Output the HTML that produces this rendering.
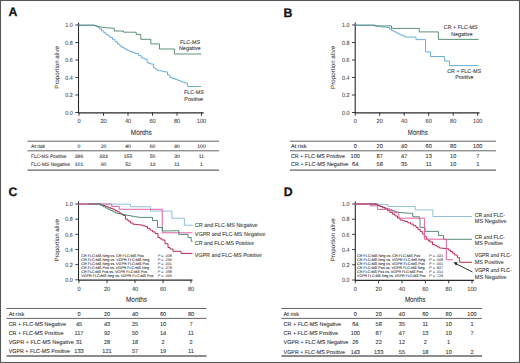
<!DOCTYPE html><html><head><meta charset="utf-8"><style>html,body{margin:0;padding:0;background:#fff;overflow:hidden;width:520px;height:363px;}svg{display:block;}text{font-family:"Liberation Sans", sans-serif;text-rendering:geometricPrecision;}</style></head><body>
<svg width="520" height="363" viewBox="0 0 520 363">
<rect x="0" y="0" width="520" height="363" fill="#fff"/>
<text x="8.4" y="16.4" font-size="12.3" text-anchor="start" fill="#111" stroke="#111" stroke-width="0.25" font-weight="bold">A</text>
<text x="283.4" y="16.8" font-size="12.3" text-anchor="start" fill="#111" stroke="#111" stroke-width="0.25" font-weight="bold">B</text>
<text x="8.4" y="196" font-size="12.3" text-anchor="start" fill="#111" stroke="#111" stroke-width="0.25" font-weight="bold">C</text>
<text x="283.8" y="196" font-size="12.3" text-anchor="start" fill="#111" stroke="#111" stroke-width="0.25" font-weight="bold">D</text>
<line x1="78.5" y1="22.5" x2="78.5" y2="113" stroke="#2a2a2a" stroke-width="1.1"/>
<line x1="78" y1="112.8" x2="203.7" y2="112.8" stroke="#2a2a2a" stroke-width="1.3"/>
<line x1="75.3" y1="112.5" x2="78.5" y2="112.5" stroke="#2a2a2a" stroke-width="0.9"/>
<text x="72.7" y="114.7" font-size="6.1" text-anchor="end" fill="#4a4a4a" stroke="#4a4a4a" stroke-width="0.08" textLength="7.46" lengthAdjust="spacingAndGlyphs">0.0</text>
<line x1="75.3" y1="95" x2="78.5" y2="95" stroke="#2a2a2a" stroke-width="0.9"/>
<text x="72.7" y="97.2" font-size="6.1" text-anchor="end" fill="#4a4a4a" stroke="#4a4a4a" stroke-width="0.08" textLength="7.46" lengthAdjust="spacingAndGlyphs">0.2</text>
<line x1="75.3" y1="77.5" x2="78.5" y2="77.5" stroke="#2a2a2a" stroke-width="0.9"/>
<text x="72.7" y="79.7" font-size="6.1" text-anchor="end" fill="#4a4a4a" stroke="#4a4a4a" stroke-width="0.08" textLength="7.46" lengthAdjust="spacingAndGlyphs">0.4</text>
<line x1="75.3" y1="60" x2="78.5" y2="60" stroke="#2a2a2a" stroke-width="0.9"/>
<text x="72.7" y="62.2" font-size="6.1" text-anchor="end" fill="#4a4a4a" stroke="#4a4a4a" stroke-width="0.08" textLength="7.46" lengthAdjust="spacingAndGlyphs">0.6</text>
<line x1="75.3" y1="42.5" x2="78.5" y2="42.5" stroke="#2a2a2a" stroke-width="0.9"/>
<text x="72.7" y="44.7" font-size="6.1" text-anchor="end" fill="#4a4a4a" stroke="#4a4a4a" stroke-width="0.08" textLength="7.46" lengthAdjust="spacingAndGlyphs">0.8</text>
<line x1="75.3" y1="25" x2="78.5" y2="25" stroke="#2a2a2a" stroke-width="0.9"/>
<text x="72.7" y="27.2" font-size="6.1" text-anchor="end" fill="#4a4a4a" stroke="#4a4a4a" stroke-width="0.08" textLength="7.46" lengthAdjust="spacingAndGlyphs">1.0</text>
<line x1="79" y1="112.5" x2="79" y2="115.8" stroke="#2a2a2a" stroke-width="0.9"/>
<text x="79" y="123.2" font-size="6.1" text-anchor="middle" fill="#4a4a4a" stroke="#4a4a4a" stroke-width="0.08" textLength="3.12" lengthAdjust="spacingAndGlyphs">0</text>
<line x1="103.5" y1="112.5" x2="103.5" y2="115.8" stroke="#2a2a2a" stroke-width="0.9"/>
<text x="103.5" y="123.2" font-size="6.1" text-anchor="middle" fill="#4a4a4a" stroke="#4a4a4a" stroke-width="0.08" textLength="6.24" lengthAdjust="spacingAndGlyphs">20</text>
<line x1="128" y1="112.5" x2="128" y2="115.8" stroke="#2a2a2a" stroke-width="0.9"/>
<text x="128" y="123.2" font-size="6.1" text-anchor="middle" fill="#4a4a4a" stroke="#4a4a4a" stroke-width="0.08" textLength="6.24" lengthAdjust="spacingAndGlyphs">40</text>
<line x1="152.5" y1="112.5" x2="152.5" y2="115.8" stroke="#2a2a2a" stroke-width="0.9"/>
<text x="152.5" y="123.2" font-size="6.1" text-anchor="middle" fill="#4a4a4a" stroke="#4a4a4a" stroke-width="0.08" textLength="6.24" lengthAdjust="spacingAndGlyphs">60</text>
<line x1="177" y1="112.5" x2="177" y2="115.8" stroke="#2a2a2a" stroke-width="0.9"/>
<text x="177" y="123.2" font-size="6.1" text-anchor="middle" fill="#4a4a4a" stroke="#4a4a4a" stroke-width="0.08" textLength="6.24" lengthAdjust="spacingAndGlyphs">80</text>
<line x1="201.5" y1="112.5" x2="201.5" y2="115.8" stroke="#2a2a2a" stroke-width="0.9"/>
<text x="201.5" y="123.2" font-size="6.1" text-anchor="middle" fill="#4a4a4a" stroke="#4a4a4a" stroke-width="0.08" textLength="9.36" lengthAdjust="spacingAndGlyphs">100</text>
<text x="141.3" y="134.6" font-size="7.7" text-anchor="middle" fill="#333" stroke="#333" stroke-width="0.08" textLength="21" lengthAdjust="spacingAndGlyphs">Months</text>
<text transform="translate(58.6,67.4) rotate(-90)" font-size="6.2" text-anchor="middle" fill="#333" stroke="#333" stroke-width="0.05" textLength="42.5" lengthAdjust="spacingAndGlyphs">Proportion alive</text>
<polyline points="78.5,25.2 93.5,25.2 95.2,25.2 95.2,26.05 96.9,26.05 96.9,26.9 99.2,26.9 99.2,28.83 101.5,28.83 101.5,30.77 103.8,30.77 103.8,32.7 105.87,32.7 105.87,34.3 107.93,34.3 107.93,35.9 110,35.9 110,37.5 112.5,37.5 112.5,39.65 115,39.65 115,41.8 117.45,41.8 117.45,44 119.9,44 119.9,46.2 121.97,46.2 121.97,47.43 124.03,47.43 124.03,48.67 126.1,48.67 126.1,49.9 128.17,49.9 128.17,50.73 130.23,50.73 130.23,51.57 132.3,51.57 132.3,52.4 134.15,52.4 134.15,53 136,53 136,53.6 138.5,53.6 138.5,55.45 141,55.45 141,57.3 142.85,57.3 142.85,58.25 144.7,58.25 144.7,59.2 147.2,59.2 147.2,62.9 149.05,62.9 149.05,63.5 150.9,63.5 150.9,64.1 153.4,64.1 153.4,67.9 155.25,67.9 155.25,69.1 157.1,69.1 157.1,70.3 159.17,70.3 159.17,70.73 161.23,70.73 161.23,71.17 163.3,71.17 163.3,71.6 165,71.6 165,71.9 167.5,71.9 167.5,75 170,75 170,77.5 172.5,77.5 172.5,78.45 175,78.45 175,79.4 177.5,79.4 177.5,80.33 180,80.33 180,81.25 182.5,81.25 182.5,82.17 185,82.17 185,83.1 187.5,83.1 187.5,85.6 187.5,86.5 201.3,86.5" fill="none" stroke="#5aa8d6" stroke-width="0.9" stroke-linejoin="round"/>
<polyline points="78.5,25.2 93.5,25.2 101.5,27.2 107.3,27.9 114.2,28.3 114.2,31 123.5,31 123.5,32.2 136.2,32.2 136.2,34.4 140.8,34.4 140.8,39.3 150.9,39.3 150.9,43.9 159.5,43.9 159.5,49 174.4,49 174.4,54 201.3,54" fill="none" stroke="#4a8468" stroke-width="0.9" stroke-linejoin="round"/>
<text x="190" y="44" font-size="5.5" text-anchor="middle" fill="#333" stroke="#333" stroke-width="0.08" textLength="20" lengthAdjust="spacingAndGlyphs">FLC-MS</text>
<text x="189.7" y="49.9" font-size="5.5" text-anchor="middle" fill="#333" stroke="#333" stroke-width="0.08" textLength="21.5" lengthAdjust="spacingAndGlyphs">Negative</text>
<text x="193.9" y="93.8" font-size="5.5" text-anchor="middle" fill="#333" stroke="#333" stroke-width="0.08" textLength="19.7" lengthAdjust="spacingAndGlyphs">FLC-MS</text>
<text x="193.7" y="100.6" font-size="5.5" text-anchor="middle" fill="#333" stroke="#333" stroke-width="0.08" textLength="18.7" lengthAdjust="spacingAndGlyphs">Positive</text>
<line x1="27.5" y1="141.2" x2="219" y2="141.2" stroke="#666" stroke-width="1"/>
<line x1="27.5" y1="150.8" x2="219" y2="150.8" stroke="#666" stroke-width="1"/>
<line x1="27.5" y1="170.1" x2="219" y2="170.1" stroke="#666" stroke-width="1.3"/>
<text x="31" y="147.8" font-size="5.1" text-anchor="start" fill="#333" stroke="#333" stroke-width="0.08">At risk</text>
<text x="79" y="147.8" font-size="5.1" text-anchor="middle" fill="#333" stroke="#333" stroke-width="0.08">0</text>
<text x="103.5" y="147.8" font-size="5.1" text-anchor="middle" fill="#333" stroke="#333" stroke-width="0.08">20</text>
<text x="128" y="147.8" font-size="5.1" text-anchor="middle" fill="#333" stroke="#333" stroke-width="0.08">40</text>
<text x="152.5" y="147.8" font-size="5.1" text-anchor="middle" fill="#333" stroke="#333" stroke-width="0.08">60</text>
<text x="177" y="147.8" font-size="5.1" text-anchor="middle" fill="#333" stroke="#333" stroke-width="0.08">80</text>
<text x="201.5" y="147.8" font-size="5.1" text-anchor="middle" fill="#333" stroke="#333" stroke-width="0.08">100</text>
<text x="31" y="158.4" font-size="5.1" text-anchor="start" fill="#333" stroke="#333" stroke-width="0.08" textLength="35.5" lengthAdjust="spacingAndGlyphs">FLC-MS Positive</text>
<text x="79" y="158.4" font-size="5.1" text-anchor="middle" fill="#333" stroke="#333" stroke-width="0.08">386</text>
<text x="103.5" y="158.4" font-size="5.1" text-anchor="middle" fill="#333" stroke="#333" stroke-width="0.08">333</text>
<text x="128" y="158.4" font-size="5.1" text-anchor="middle" fill="#333" stroke="#333" stroke-width="0.08">155</text>
<text x="152.5" y="158.4" font-size="5.1" text-anchor="middle" fill="#333" stroke="#333" stroke-width="0.08">50</text>
<text x="177" y="158.4" font-size="5.1" text-anchor="middle" fill="#333" stroke="#333" stroke-width="0.08">30</text>
<text x="201.5" y="158.4" font-size="5.1" text-anchor="middle" fill="#333" stroke="#333" stroke-width="0.08">11</text>
<text x="31" y="166.4" font-size="5.1" text-anchor="start" fill="#333" stroke="#333" stroke-width="0.08" textLength="39" lengthAdjust="spacingAndGlyphs">FLC-MS Negative</text>
<text x="79" y="166.4" font-size="5.1" text-anchor="middle" fill="#333" stroke="#333" stroke-width="0.08">101</text>
<text x="103.5" y="166.4" font-size="5.1" text-anchor="middle" fill="#333" stroke="#333" stroke-width="0.08">90</text>
<text x="128" y="166.4" font-size="5.1" text-anchor="middle" fill="#333" stroke="#333" stroke-width="0.08">52</text>
<text x="152.5" y="166.4" font-size="5.1" text-anchor="middle" fill="#333" stroke="#333" stroke-width="0.08">13</text>
<text x="177" y="166.4" font-size="5.1" text-anchor="middle" fill="#333" stroke="#333" stroke-width="0.08">11</text>
<text x="201.5" y="166.4" font-size="5.1" text-anchor="middle" fill="#333" stroke="#333" stroke-width="0.08">1</text>
<line x1="355.2" y1="22.5" x2="355.2" y2="113" stroke="#2a2a2a" stroke-width="1.1"/>
<line x1="354.7" y1="112.8" x2="479.5" y2="112.8" stroke="#2a2a2a" stroke-width="1.3"/>
<line x1="352" y1="112.5" x2="355.2" y2="112.5" stroke="#2a2a2a" stroke-width="0.9"/>
<text x="349.4" y="114.7" font-size="6.1" text-anchor="end" fill="#4a4a4a" stroke="#4a4a4a" stroke-width="0.08" textLength="7.46" lengthAdjust="spacingAndGlyphs">0.0</text>
<line x1="352" y1="95" x2="355.2" y2="95" stroke="#2a2a2a" stroke-width="0.9"/>
<text x="349.4" y="97.2" font-size="6.1" text-anchor="end" fill="#4a4a4a" stroke="#4a4a4a" stroke-width="0.08" textLength="7.46" lengthAdjust="spacingAndGlyphs">0.2</text>
<line x1="352" y1="77.5" x2="355.2" y2="77.5" stroke="#2a2a2a" stroke-width="0.9"/>
<text x="349.4" y="79.7" font-size="6.1" text-anchor="end" fill="#4a4a4a" stroke="#4a4a4a" stroke-width="0.08" textLength="7.46" lengthAdjust="spacingAndGlyphs">0.4</text>
<line x1="352" y1="60" x2="355.2" y2="60" stroke="#2a2a2a" stroke-width="0.9"/>
<text x="349.4" y="62.2" font-size="6.1" text-anchor="end" fill="#4a4a4a" stroke="#4a4a4a" stroke-width="0.08" textLength="7.46" lengthAdjust="spacingAndGlyphs">0.6</text>
<line x1="352" y1="42.5" x2="355.2" y2="42.5" stroke="#2a2a2a" stroke-width="0.9"/>
<text x="349.4" y="44.7" font-size="6.1" text-anchor="end" fill="#4a4a4a" stroke="#4a4a4a" stroke-width="0.08" textLength="7.46" lengthAdjust="spacingAndGlyphs">0.8</text>
<line x1="352" y1="25" x2="355.2" y2="25" stroke="#2a2a2a" stroke-width="0.9"/>
<text x="349.4" y="27.2" font-size="6.1" text-anchor="end" fill="#4a4a4a" stroke="#4a4a4a" stroke-width="0.08" textLength="7.46" lengthAdjust="spacingAndGlyphs">1.0</text>
<line x1="355.2" y1="112.5" x2="355.2" y2="115.8" stroke="#2a2a2a" stroke-width="0.9"/>
<text x="355.2" y="123.2" font-size="6.1" text-anchor="middle" fill="#4a4a4a" stroke="#4a4a4a" stroke-width="0.08" textLength="3.12" lengthAdjust="spacingAndGlyphs">0</text>
<line x1="379.7" y1="112.5" x2="379.7" y2="115.8" stroke="#2a2a2a" stroke-width="0.9"/>
<text x="379.7" y="123.2" font-size="6.1" text-anchor="middle" fill="#4a4a4a" stroke="#4a4a4a" stroke-width="0.08" textLength="6.24" lengthAdjust="spacingAndGlyphs">20</text>
<line x1="404.2" y1="112.5" x2="404.2" y2="115.8" stroke="#2a2a2a" stroke-width="0.9"/>
<text x="404.2" y="123.2" font-size="6.1" text-anchor="middle" fill="#4a4a4a" stroke="#4a4a4a" stroke-width="0.08" textLength="6.24" lengthAdjust="spacingAndGlyphs">40</text>
<line x1="428.7" y1="112.5" x2="428.7" y2="115.8" stroke="#2a2a2a" stroke-width="0.9"/>
<text x="428.7" y="123.2" font-size="6.1" text-anchor="middle" fill="#4a4a4a" stroke="#4a4a4a" stroke-width="0.08" textLength="6.24" lengthAdjust="spacingAndGlyphs">60</text>
<line x1="453.2" y1="112.5" x2="453.2" y2="115.8" stroke="#2a2a2a" stroke-width="0.9"/>
<text x="453.2" y="123.2" font-size="6.1" text-anchor="middle" fill="#4a4a4a" stroke="#4a4a4a" stroke-width="0.08" textLength="6.24" lengthAdjust="spacingAndGlyphs">80</text>
<line x1="477.7" y1="112.5" x2="477.7" y2="115.8" stroke="#2a2a2a" stroke-width="0.9"/>
<text x="477.7" y="123.2" font-size="6.1" text-anchor="middle" fill="#4a4a4a" stroke="#4a4a4a" stroke-width="0.08" textLength="9.36" lengthAdjust="spacingAndGlyphs">100</text>
<text x="417.8" y="134.6" font-size="7.7" text-anchor="middle" fill="#333" stroke="#333" stroke-width="0.08" textLength="20" lengthAdjust="spacingAndGlyphs">Months</text>
<text transform="translate(335.4,67.4) rotate(-90)" font-size="6.2" text-anchor="middle" fill="#333" stroke="#333" stroke-width="0.05" textLength="43" lengthAdjust="spacingAndGlyphs">Proportion alive</text>
<polyline points="355.2,25.2 374.6,25.2 376,25.2 376,26.5 378.34,26.5 378.34,26.7 380.68,26.7 380.68,26.9 383.02,26.9 383.02,27.1 385.36,27.1 385.36,27.3 387.7,27.3 387.7,27.5 389.6,27.5 389.6,29.05 391.5,29.05 391.5,30.6 393.68,30.6 393.68,31.7 395.85,31.7 395.85,32.8 398.02,32.8 398.02,33.9 400.2,33.9 400.2,35 402.7,35 402.7,35.95 405.2,35.95 405.2,36.9 405.2,37.1 416,37.1 416,39.6 425.5,39.6 425.5,51.9 430.5,51.9 430.5,56.5 444.6,56.5 444.6,61 449.6,61 449.6,65.6 478.5,65.6" fill="none" stroke="#5aa8d6" stroke-width="0.9" stroke-linejoin="round"/>
<polyline points="355.2,25.2 374.6,25.2 374.6,25.9 391.5,25.9 391.5,28.4 419.2,28.4 419.2,31.9 438.4,31.9 438.4,39.4 478.5,39.4" fill="none" stroke="#4a8468" stroke-width="0.9" stroke-linejoin="round"/>
<text x="460.7" y="29.1" font-size="5.5" text-anchor="middle" fill="#333" stroke="#333" stroke-width="0.08" textLength="33.8" lengthAdjust="spacingAndGlyphs">CR + FLC-MS</text>
<text x="461.8" y="35.65" font-size="5.5" text-anchor="middle" fill="#333" stroke="#333" stroke-width="0.08" textLength="21.6" lengthAdjust="spacingAndGlyphs">Negative</text>
<text x="464.1" y="73.4" font-size="5.5" text-anchor="middle" fill="#333" stroke="#333" stroke-width="0.08" textLength="33.8" lengthAdjust="spacingAndGlyphs">CR + FLC-MS</text>
<text x="464.3" y="79.3" font-size="5.5" text-anchor="middle" fill="#333" stroke="#333" stroke-width="0.08" textLength="18.2" lengthAdjust="spacingAndGlyphs">Positive</text>
<line x1="290" y1="141.2" x2="496" y2="141.2" stroke="#666" stroke-width="1"/>
<line x1="290" y1="150.8" x2="496" y2="150.8" stroke="#666" stroke-width="1"/>
<line x1="290" y1="170.1" x2="496" y2="170.1" stroke="#666" stroke-width="1.3"/>
<text x="291" y="147.8" font-size="5.6" text-anchor="start" fill="#333" stroke="#333" stroke-width="0.08">At risk</text>
<text x="355.2" y="147.8" font-size="5.6" text-anchor="middle" fill="#333" stroke="#333" stroke-width="0.08">0</text>
<text x="379.7" y="147.8" font-size="5.6" text-anchor="middle" fill="#333" stroke="#333" stroke-width="0.08">20</text>
<text x="404.2" y="147.8" font-size="5.6" text-anchor="middle" fill="#333" stroke="#333" stroke-width="0.08">40</text>
<text x="428.7" y="147.8" font-size="5.6" text-anchor="middle" fill="#333" stroke="#333" stroke-width="0.08">60</text>
<text x="453.2" y="147.8" font-size="5.6" text-anchor="middle" fill="#333" stroke="#333" stroke-width="0.08">80</text>
<text x="477.7" y="147.8" font-size="5.6" text-anchor="middle" fill="#333" stroke="#333" stroke-width="0.08">100</text>
<text x="291" y="158.4" font-size="5.6" text-anchor="start" fill="#333" stroke="#333" stroke-width="0.08" textLength="54" lengthAdjust="spacingAndGlyphs">CR + FLC-MS Positive</text>
<text x="355.2" y="158.4" font-size="5.6" text-anchor="middle" fill="#333" stroke="#333" stroke-width="0.08">100</text>
<text x="379.7" y="158.4" font-size="5.6" text-anchor="middle" fill="#333" stroke="#333" stroke-width="0.08">87</text>
<text x="404.2" y="158.4" font-size="5.6" text-anchor="middle" fill="#333" stroke="#333" stroke-width="0.08">47</text>
<text x="428.7" y="158.4" font-size="5.6" text-anchor="middle" fill="#333" stroke="#333" stroke-width="0.08">13</text>
<text x="453.2" y="158.4" font-size="5.6" text-anchor="middle" fill="#333" stroke="#333" stroke-width="0.08">10</text>
<text x="477.7" y="158.4" font-size="5.6" text-anchor="middle" fill="#333" stroke="#333" stroke-width="0.08">7</text>
<text x="291" y="166.4" font-size="5.6" text-anchor="start" fill="#333" stroke="#333" stroke-width="0.08" textLength="57.4" lengthAdjust="spacingAndGlyphs">CR + FLC-MS Negative</text>
<text x="355.2" y="166.4" font-size="5.6" text-anchor="middle" fill="#333" stroke="#333" stroke-width="0.08">64</text>
<text x="379.7" y="166.4" font-size="5.6" text-anchor="middle" fill="#333" stroke="#333" stroke-width="0.08">58</text>
<text x="404.2" y="166.4" font-size="5.6" text-anchor="middle" fill="#333" stroke="#333" stroke-width="0.08">35</text>
<text x="428.7" y="166.4" font-size="5.6" text-anchor="middle" fill="#333" stroke="#333" stroke-width="0.08">11</text>
<text x="453.2" y="166.4" font-size="5.6" text-anchor="middle" fill="#333" stroke="#333" stroke-width="0.08">10</text>
<text x="477.7" y="166.4" font-size="5.6" text-anchor="middle" fill="#333" stroke="#333" stroke-width="0.08">1</text>
<line x1="78.5" y1="201.5" x2="78.5" y2="280.3" stroke="#2a2a2a" stroke-width="1.1"/>
<line x1="78" y1="280.1" x2="192.5" y2="280.1" stroke="#2a2a2a" stroke-width="1.3"/>
<line x1="75.3" y1="279.8" x2="78.5" y2="279.8" stroke="#2a2a2a" stroke-width="0.9"/>
<text x="72.7" y="282" font-size="6.1" text-anchor="end" fill="#4a4a4a" stroke="#4a4a4a" stroke-width="0.08" textLength="7.46" lengthAdjust="spacingAndGlyphs">0.0</text>
<line x1="75.3" y1="264.64" x2="78.5" y2="264.64" stroke="#2a2a2a" stroke-width="0.9"/>
<text x="72.7" y="266.84" font-size="6.1" text-anchor="end" fill="#4a4a4a" stroke="#4a4a4a" stroke-width="0.08" textLength="7.46" lengthAdjust="spacingAndGlyphs">0.2</text>
<line x1="75.3" y1="249.48" x2="78.5" y2="249.48" stroke="#2a2a2a" stroke-width="0.9"/>
<text x="72.7" y="251.68" font-size="6.1" text-anchor="end" fill="#4a4a4a" stroke="#4a4a4a" stroke-width="0.08" textLength="7.46" lengthAdjust="spacingAndGlyphs">0.4</text>
<line x1="75.3" y1="234.32" x2="78.5" y2="234.32" stroke="#2a2a2a" stroke-width="0.9"/>
<text x="72.7" y="236.52" font-size="6.1" text-anchor="end" fill="#4a4a4a" stroke="#4a4a4a" stroke-width="0.08" textLength="7.46" lengthAdjust="spacingAndGlyphs">0.6</text>
<line x1="75.3" y1="219.16" x2="78.5" y2="219.16" stroke="#2a2a2a" stroke-width="0.9"/>
<text x="72.7" y="221.36" font-size="6.1" text-anchor="end" fill="#4a4a4a" stroke="#4a4a4a" stroke-width="0.08" textLength="7.46" lengthAdjust="spacingAndGlyphs">0.8</text>
<line x1="75.3" y1="204" x2="78.5" y2="204" stroke="#2a2a2a" stroke-width="0.9"/>
<text x="72.7" y="206.2" font-size="6.1" text-anchor="end" fill="#4a4a4a" stroke="#4a4a4a" stroke-width="0.08" textLength="7.46" lengthAdjust="spacingAndGlyphs">1.0</text>
<line x1="79" y1="279.8" x2="79" y2="283.1" stroke="#2a2a2a" stroke-width="0.9"/>
<text x="79" y="290.5" font-size="6.1" text-anchor="middle" fill="#4a4a4a" stroke="#4a4a4a" stroke-width="0.08" textLength="3.12" lengthAdjust="spacingAndGlyphs">0</text>
<line x1="107" y1="279.8" x2="107" y2="283.1" stroke="#2a2a2a" stroke-width="0.9"/>
<text x="107" y="290.5" font-size="6.1" text-anchor="middle" fill="#4a4a4a" stroke="#4a4a4a" stroke-width="0.08" textLength="6.24" lengthAdjust="spacingAndGlyphs">20</text>
<line x1="135" y1="279.8" x2="135" y2="283.1" stroke="#2a2a2a" stroke-width="0.9"/>
<text x="135" y="290.5" font-size="6.1" text-anchor="middle" fill="#4a4a4a" stroke="#4a4a4a" stroke-width="0.08" textLength="6.24" lengthAdjust="spacingAndGlyphs">40</text>
<line x1="163" y1="279.8" x2="163" y2="283.1" stroke="#2a2a2a" stroke-width="0.9"/>
<text x="163" y="290.5" font-size="6.1" text-anchor="middle" fill="#4a4a4a" stroke="#4a4a4a" stroke-width="0.08" textLength="6.24" lengthAdjust="spacingAndGlyphs">60</text>
<line x1="191" y1="279.8" x2="191" y2="283.1" stroke="#2a2a2a" stroke-width="0.9"/>
<text x="191" y="290.5" font-size="6.1" text-anchor="middle" fill="#4a4a4a" stroke="#4a4a4a" stroke-width="0.08" textLength="6.24" lengthAdjust="spacingAndGlyphs">80</text>
<text x="136.5" y="302" font-size="7.7" text-anchor="middle" fill="#333" stroke="#333" stroke-width="0.08" textLength="21" lengthAdjust="spacingAndGlyphs">Months</text>
<text transform="translate(58.6,240.3) rotate(-90)" font-size="6.2" text-anchor="middle" fill="#333" stroke="#333" stroke-width="0.05" textLength="42.5" lengthAdjust="spacingAndGlyphs">Proportion alive</text>
<polyline points="78.5,204.2 130.5,204.2 130.5,206.75 150.6,206.75 150.6,211.1 171.9,211.1 171.9,218.25 184.4,218.25 184.4,225.25 193,225.25" fill="none" stroke="#84b8d8" stroke-width="0.9" stroke-linejoin="round"/>
<polyline points="78.5,204 98,204 100.5,204 100.5,204.75 103,204.75 103,205.5 105,205.5 105,206.25 107,206.25 107,207 109,207 109,207.75 111,207.75 111,208.5 113,208.5 113,209.25 115.08,209.25 115.08,210.5 117.17,210.5 117.17,211.75 119.25,211.75 119.25,213 121.12,213 121.12,214.25 123,214.25 123,215.5 125.5,215.5 125.5,219.25 128,219.25 128,221.12 130.5,221.12 130.5,223 133,223 133,224.25 135.33,224.25 135.33,224.5 137.67,224.5 137.67,224.75 140,224.75 140,225 142.5,225 142.5,225.75 145,225.75 145,226.5 147.5,226.5 147.5,228.35 150,228.35 150,230.2 152.5,230.2 152.5,231.85 155,231.85 155,233.5 158,233.5 158,237.5 160,237.5 160,238.75 162,238.75 162,240 165,240 165,243.75 168,243.75 168,247.5 170,247.5 170,249 173,249 173,251.25 180,251.25 181,251.25 181,253.4 192.5,253.4" fill="none" stroke="#bb2a52" stroke-width="1" stroke-linejoin="round"/>
<polyline points="78.5,204 111.75,204 111.75,206.5 119.25,206.5 119.25,209.3 162.25,209.3 162.25,232.8 192.5,232.8" fill="none" stroke="#dd62a6" stroke-width="1" stroke-linejoin="round"/>
<polyline points="88,204 98,204 100.5,204 100.5,205.38 103,205.38 103,206.75 105.5,206.75 105.5,208 108,208 108,209.25 110.5,209.25 110.5,210.5 113,210.5 113,211.75 115.5,211.75 115.5,213 117.58,213 117.58,213.42 119.67,213.42 119.67,213.83 121.75,213.83 121.75,214.25 123.83,214.25 123.83,214.67 125.92,214.67 125.92,215.08 128,215.08 128,215.5 130.08,215.5 130.08,215.92 132.17,215.92 132.17,216.33 134.25,216.33 134.25,216.75 136.75,216.75 136.75,217.07 139.25,217.07 139.25,217.4 152.5,217.4 152.5,220.5 157.5,220.5 157.5,227.4 162.5,227.4 162.5,231 164.82,231 164.82,230.94 167.14,230.94 167.14,230.89 169.46,230.89 169.46,230.83 171.79,230.83 171.79,230.77 174.11,230.77 174.11,230.71 176.43,230.71 176.43,230.66 178.75,230.66 178.75,230.6 178.75,234.4 188,234.4 188,237.5 191.2,237.5 191.2,241.3 192.5,241.3" fill="none" stroke="#44806a" stroke-width="0.9" stroke-linejoin="round"/>
<text x="194.8" y="227.3" font-size="5.8" text-anchor="start" fill="#333" stroke="#333" stroke-width="0.08" textLength="63.1" lengthAdjust="spacingAndGlyphs">CR and FLC-MS Negative</text>
<text x="194.8" y="235.6" font-size="5.8" text-anchor="start" fill="#333" stroke="#333" stroke-width="0.08" textLength="70.6" lengthAdjust="spacingAndGlyphs">VGPR and FLC-MS Negative</text>
<text x="194.8" y="245.3" font-size="5.8" text-anchor="start" fill="#333" stroke="#333" stroke-width="0.08" textLength="59.4" lengthAdjust="spacingAndGlyphs">CR and FLC-MS Positive</text>
<text x="194.8" y="257" font-size="5.8" text-anchor="start" fill="#333" stroke="#333" stroke-width="0.08" textLength="67.2" lengthAdjust="spacingAndGlyphs">VGPR and FLC-MS Positive</text>
<text x="81.3" y="256.5" font-size="3.75" text-anchor="start" fill="#2a2a2a" stroke="#2a2a2a" stroke-width="0.08" textLength="62.4" lengthAdjust="spacingAndGlyphs">CR FLC-MS Neg vs. CR FLC-MS Pos</text>
<text x="157.8" y="256.5" font-size="3.75" fill="#2a2a2a"><tspan font-style="italic">P</tspan> = .038</text>
<text x="81.3" y="260.6" font-size="3.75" text-anchor="start" fill="#2a2a2a" stroke="#2a2a2a" stroke-width="0.08" textLength="68.1" lengthAdjust="spacingAndGlyphs">CR FLC-MS Neg vs. VGPR FLC-MS Neg</text>
<text x="157.8" y="260.6" font-size="3.75" fill="#2a2a2a"><tspan font-style="italic">P</tspan> = .256</text>
<text x="81.3" y="264.6" font-size="3.75" text-anchor="start" fill="#2a2a2a" stroke="#2a2a2a" stroke-width="0.08" textLength="67.6" lengthAdjust="spacingAndGlyphs">CR FLC-MS Neg vs. VGPR FLC-MS Pos</text>
<text x="157.8" y="264.6" font-size="3.75" fill="#2a2a2a"><tspan font-style="italic">P</tspan> = .001</text>
<text x="81.3" y="268.7" font-size="3.75" text-anchor="start" fill="#2a2a2a" stroke="#2a2a2a" stroke-width="0.08" textLength="67.6" lengthAdjust="spacingAndGlyphs">CR FLC-MS Pos vs. VGPR FLC-MS Neg</text>
<text x="157.8" y="268.7" font-size="3.75" fill="#2a2a2a"><tspan font-style="italic">P</tspan> = .278</text>
<text x="81.3" y="272.7" font-size="3.75" text-anchor="start" fill="#2a2a2a" stroke="#2a2a2a" stroke-width="0.08" textLength="65.7" lengthAdjust="spacingAndGlyphs">CR FLC-MS Pos vs. VGPR FLC-MS Pos</text>
<text x="157.8" y="272.7" font-size="3.75" fill="#2a2a2a"><tspan font-style="italic">P</tspan> = .058</text>
<text x="81.3" y="276.7" font-size="3.75" text-anchor="start" fill="#2a2a2a" stroke="#2a2a2a" stroke-width="0.08" textLength="72" lengthAdjust="spacingAndGlyphs">VGPR FLC-MS Neg vs. VGPR FLC-MS Pos</text>
<text x="157.8" y="276.7" font-size="3.75" fill="#2a2a2a"><tspan font-style="italic">P</tspan> = .029</text>
<line x1="6.5" y1="308.5" x2="206.5" y2="308.5" stroke="#666" stroke-width="1"/>
<line x1="6.5" y1="318.4" x2="206.5" y2="318.4" stroke="#666" stroke-width="1"/>
<line x1="6.5" y1="356" x2="206.5" y2="356" stroke="#666" stroke-width="1.3"/>
<text x="8.7" y="315.5" font-size="5.6" text-anchor="start" fill="#333" stroke="#333" stroke-width="0.08">At risk</text>
<text x="79" y="315.5" font-size="5.6" text-anchor="middle" fill="#333" stroke="#333" stroke-width="0.08">0</text>
<text x="107" y="315.5" font-size="5.6" text-anchor="middle" fill="#333" stroke="#333" stroke-width="0.08">20</text>
<text x="135" y="315.5" font-size="5.6" text-anchor="middle" fill="#333" stroke="#333" stroke-width="0.08">40</text>
<text x="163" y="315.5" font-size="5.6" text-anchor="middle" fill="#333" stroke="#333" stroke-width="0.08">60</text>
<text x="191" y="315.5" font-size="5.6" text-anchor="middle" fill="#333" stroke="#333" stroke-width="0.08">80</text>
<text x="8.7" y="326.3" font-size="5.6" text-anchor="start" fill="#333" stroke="#333" stroke-width="0.08" textLength="57.4" lengthAdjust="spacingAndGlyphs">CR + FLC-MS Negative</text>
<text x="79" y="326.3" font-size="5.6" text-anchor="middle" fill="#333" stroke="#333" stroke-width="0.08">45</text>
<text x="107" y="326.3" font-size="5.6" text-anchor="middle" fill="#333" stroke="#333" stroke-width="0.08">43</text>
<text x="135" y="326.3" font-size="5.6" text-anchor="middle" fill="#333" stroke="#333" stroke-width="0.08">25</text>
<text x="163" y="326.3" font-size="5.6" text-anchor="middle" fill="#333" stroke="#333" stroke-width="0.08">10</text>
<text x="191" y="326.3" font-size="5.6" text-anchor="middle" fill="#333" stroke="#333" stroke-width="0.08">7</text>
<text x="8.7" y="335" font-size="5.6" text-anchor="start" fill="#333" stroke="#333" stroke-width="0.08" textLength="54.8" lengthAdjust="spacingAndGlyphs">CR + FLC-MS Positive</text>
<text x="79" y="335" font-size="5.6" text-anchor="middle" fill="#333" stroke="#333" stroke-width="0.08">117</text>
<text x="107" y="335" font-size="5.6" text-anchor="middle" fill="#333" stroke="#333" stroke-width="0.08">92</text>
<text x="135" y="335" font-size="5.6" text-anchor="middle" fill="#333" stroke="#333" stroke-width="0.08">50</text>
<text x="163" y="335" font-size="5.6" text-anchor="middle" fill="#333" stroke="#333" stroke-width="0.08">14</text>
<text x="191" y="335" font-size="5.6" text-anchor="middle" fill="#333" stroke="#333" stroke-width="0.08">11</text>
<text x="8.7" y="344.2" font-size="5.6" text-anchor="start" fill="#333" stroke="#333" stroke-width="0.08" textLength="65.1" lengthAdjust="spacingAndGlyphs">VGPR + FLC-MS Negative</text>
<text x="79" y="344.2" font-size="5.6" text-anchor="middle" fill="#333" stroke="#333" stroke-width="0.08">31</text>
<text x="107" y="344.2" font-size="5.6" text-anchor="middle" fill="#333" stroke="#333" stroke-width="0.08">28</text>
<text x="135" y="344.2" font-size="5.6" text-anchor="middle" fill="#333" stroke="#333" stroke-width="0.08">18</text>
<text x="163" y="344.2" font-size="5.6" text-anchor="middle" fill="#333" stroke="#333" stroke-width="0.08">2</text>
<text x="191" y="344.2" font-size="5.6" text-anchor="middle" fill="#333" stroke="#333" stroke-width="0.08">2</text>
<text x="8.7" y="353.3" font-size="5.6" text-anchor="start" fill="#333" stroke="#333" stroke-width="0.08" textLength="61.2" lengthAdjust="spacingAndGlyphs">VGPR + FLC-MS Positive</text>
<text x="79" y="353.3" font-size="5.6" text-anchor="middle" fill="#333" stroke="#333" stroke-width="0.08">133</text>
<text x="107" y="353.3" font-size="5.6" text-anchor="middle" fill="#333" stroke="#333" stroke-width="0.08">121</text>
<text x="135" y="353.3" font-size="5.6" text-anchor="middle" fill="#333" stroke="#333" stroke-width="0.08">57</text>
<text x="163" y="353.3" font-size="5.6" text-anchor="middle" fill="#333" stroke="#333" stroke-width="0.08">19</text>
<text x="191" y="353.3" font-size="5.6" text-anchor="middle" fill="#333" stroke="#333" stroke-width="0.08">11</text>
<line x1="355.3" y1="201.5" x2="355.3" y2="280.5" stroke="#2a2a2a" stroke-width="1.1"/>
<line x1="354.8" y1="280.3" x2="474" y2="280.3" stroke="#2a2a2a" stroke-width="1.3"/>
<line x1="352.1" y1="280" x2="355.3" y2="280" stroke="#2a2a2a" stroke-width="0.9"/>
<text x="349.5" y="282.2" font-size="6.1" text-anchor="end" fill="#4a4a4a" stroke="#4a4a4a" stroke-width="0.08" textLength="7.46" lengthAdjust="spacingAndGlyphs">0.0</text>
<line x1="352.1" y1="264.8" x2="355.3" y2="264.8" stroke="#2a2a2a" stroke-width="0.9"/>
<text x="349.5" y="267" font-size="6.1" text-anchor="end" fill="#4a4a4a" stroke="#4a4a4a" stroke-width="0.08" textLength="7.46" lengthAdjust="spacingAndGlyphs">0.2</text>
<line x1="352.1" y1="249.6" x2="355.3" y2="249.6" stroke="#2a2a2a" stroke-width="0.9"/>
<text x="349.5" y="251.8" font-size="6.1" text-anchor="end" fill="#4a4a4a" stroke="#4a4a4a" stroke-width="0.08" textLength="7.46" lengthAdjust="spacingAndGlyphs">0.4</text>
<line x1="352.1" y1="234.4" x2="355.3" y2="234.4" stroke="#2a2a2a" stroke-width="0.9"/>
<text x="349.5" y="236.6" font-size="6.1" text-anchor="end" fill="#4a4a4a" stroke="#4a4a4a" stroke-width="0.08" textLength="7.46" lengthAdjust="spacingAndGlyphs">0.6</text>
<line x1="352.1" y1="219.2" x2="355.3" y2="219.2" stroke="#2a2a2a" stroke-width="0.9"/>
<text x="349.5" y="221.4" font-size="6.1" text-anchor="end" fill="#4a4a4a" stroke="#4a4a4a" stroke-width="0.08" textLength="7.46" lengthAdjust="spacingAndGlyphs">0.8</text>
<line x1="352.1" y1="204" x2="355.3" y2="204" stroke="#2a2a2a" stroke-width="0.9"/>
<text x="349.5" y="206.2" font-size="6.1" text-anchor="end" fill="#4a4a4a" stroke="#4a4a4a" stroke-width="0.08" textLength="7.46" lengthAdjust="spacingAndGlyphs">1.0</text>
<line x1="355.3" y1="280" x2="355.3" y2="283.3" stroke="#2a2a2a" stroke-width="0.9"/>
<text x="355.3" y="290.7" font-size="6.1" text-anchor="middle" fill="#4a4a4a" stroke="#4a4a4a" stroke-width="0.08" textLength="3.12" lengthAdjust="spacingAndGlyphs">0</text>
<line x1="378.64" y1="280" x2="378.64" y2="283.3" stroke="#2a2a2a" stroke-width="0.9"/>
<text x="378.64" y="290.7" font-size="6.1" text-anchor="middle" fill="#4a4a4a" stroke="#4a4a4a" stroke-width="0.08" textLength="6.24" lengthAdjust="spacingAndGlyphs">20</text>
<line x1="401.98" y1="280" x2="401.98" y2="283.3" stroke="#2a2a2a" stroke-width="0.9"/>
<text x="401.98" y="290.7" font-size="6.1" text-anchor="middle" fill="#4a4a4a" stroke="#4a4a4a" stroke-width="0.08" textLength="6.24" lengthAdjust="spacingAndGlyphs">40</text>
<line x1="425.32" y1="280" x2="425.32" y2="283.3" stroke="#2a2a2a" stroke-width="0.9"/>
<text x="425.32" y="290.7" font-size="6.1" text-anchor="middle" fill="#4a4a4a" stroke="#4a4a4a" stroke-width="0.08" textLength="6.24" lengthAdjust="spacingAndGlyphs">60</text>
<line x1="448.66" y1="280" x2="448.66" y2="283.3" stroke="#2a2a2a" stroke-width="0.9"/>
<text x="448.66" y="290.7" font-size="6.1" text-anchor="middle" fill="#4a4a4a" stroke="#4a4a4a" stroke-width="0.08" textLength="6.24" lengthAdjust="spacingAndGlyphs">80</text>
<line x1="472" y1="280" x2="472" y2="283.3" stroke="#2a2a2a" stroke-width="0.9"/>
<text x="472" y="290.7" font-size="6.1" text-anchor="middle" fill="#4a4a4a" stroke="#4a4a4a" stroke-width="0.08" textLength="9.36" lengthAdjust="spacingAndGlyphs">100</text>
<text x="415.2" y="302" font-size="7.7" text-anchor="middle" fill="#333" stroke="#333" stroke-width="0.08" textLength="20.6" lengthAdjust="spacingAndGlyphs">Months</text>
<text transform="translate(334.8,239.8) rotate(-90)" font-size="6.2" text-anchor="middle" fill="#333" stroke="#333" stroke-width="0.05" textLength="43" lengthAdjust="spacingAndGlyphs">Proportion alive</text>
<polyline points="355.3,204 381.6,204 381.6,204.7 388,204.7 388,206.5 415.25,206.5 415.25,209.9 432.9,209.9 432.9,216.5 471.9,216.5" fill="none" stroke="#84b8d8" stroke-width="0.9" stroke-linejoin="round"/>
<polyline points="355.3,204 374.6,204 377.3,204 377.3,205.25 380,205.25 380,206.5 382.5,206.5 382.5,207.25 385,207.25 385,208 387.5,208 387.5,209 390,209 390,210 391.95,210 391.95,210.62 393.9,210.62 393.9,211.25 395.85,211.25 395.85,211.88 397.8,211.88 397.8,212.5 399.94,212.5 399.94,212.64 402.09,212.64 402.09,212.79 404.23,212.79 404.23,212.93 406.37,212.93 406.37,213.07 408.51,213.07 408.51,213.21 410.66,213.21 410.66,213.36 412.8,213.36 412.8,213.5 412.8,216.75 419.4,216.75 419.4,218.6 420,218.6 420,227.4 425,227.4 425,231.4 438.5,231.4 438.5,235.4 443.5,235.4 443.5,239.3 471.9,239.3" fill="none" stroke="#44806a" stroke-width="0.9" stroke-linejoin="round"/>
<polyline points="355.3,204 374,204 376,204 376,204.83 378,204.83 378,205.67 380,205.67 380,206.5 382.5,206.5 382.5,207.75 385,207.75 385,209 387.5,209 387.5,210.75 390,210.75 390,212.5 392.5,212.5 392.5,214.25 395,214.25 395,216 397.5,216 397.5,218 400,218 400,220 402.5,220 402.5,220.75 405,220.75 405,221.5 407.75,221.5 407.75,222.75 410.5,222.75 410.5,224 413.25,224 413.25,225.7 416,225.7 416,227.4 418.1,227.4 418.1,229.45 420.2,229.45 420.2,231.5 422.25,231.5 422.25,233.9 424.3,233.9 424.3,236.3 426.3,236.3 426.3,239.1 428.05,239.1 428.05,240.5 429.8,240.5 429.8,241.9 432.5,241.9 432.5,244.6 434.8,244.6 434.8,245.73 437.1,245.73 437.1,246.87 439.4,246.87 439.4,248 441.7,248 441.7,248.23 444,248.23 444,248.47 446.3,248.47 446.3,248.7 448.4,248.7 448.4,250.1 450.5,250.1 450.5,251.5 452.55,251.5 452.55,253.25 454.6,253.25 454.6,255 457.3,255 457.3,257.7 459.6,257.7 459.6,259.9 459.6,262.3 472,262.3" fill="none" stroke="#bb2a52" stroke-width="1" stroke-linejoin="round"/>
<polyline points="355.3,204 370,204 370,205.8 377.5,205.8 377.5,209.4 392,209.4 392,212.3 398.8,212.3 398.8,218.2 424.4,218.2 424.4,239.2 446.3,239.2 446.3,259.7 452.6,259.7" fill="none" stroke="#dd62a6" stroke-width="1" stroke-linejoin="round"/>
<text x="474.8" y="216.8" font-size="5.7" text-anchor="start" fill="#333" stroke="#333" stroke-width="0.08" textLength="30.2" lengthAdjust="spacingAndGlyphs">CR and FLC-</text>
<text x="474.8" y="222.6" font-size="5.7" text-anchor="start" fill="#333" stroke="#333" stroke-width="0.08" textLength="31.7" lengthAdjust="spacingAndGlyphs">MS Negative</text>
<text x="474.8" y="238.7" font-size="5.7" text-anchor="start" fill="#333" stroke="#333" stroke-width="0.08" textLength="30" lengthAdjust="spacingAndGlyphs">CR and FLC-</text>
<text x="474.8" y="245.3" font-size="5.7" text-anchor="start" fill="#333" stroke="#333" stroke-width="0.08" textLength="28.3" lengthAdjust="spacingAndGlyphs">MS Positive</text>
<text x="474.8" y="257.4" font-size="5.7" text-anchor="start" fill="#333" stroke="#333" stroke-width="0.08" textLength="36.9" lengthAdjust="spacingAndGlyphs">VGPR and FLC-</text>
<text x="474.8" y="263.9" font-size="5.7" text-anchor="start" fill="#333" stroke="#333" stroke-width="0.08" textLength="28.9" lengthAdjust="spacingAndGlyphs">MS Positive</text>
<text x="474.8" y="272" font-size="5.7" text-anchor="start" fill="#333" stroke="#333" stroke-width="0.08" textLength="36.9" lengthAdjust="spacingAndGlyphs">VGPR and FLC-</text>
<text x="474.8" y="278.5" font-size="5.7" text-anchor="start" fill="#333" stroke="#333" stroke-width="0.08" textLength="31.7" lengthAdjust="spacingAndGlyphs">MS Negative</text>
<line x1="456" y1="263.8" x2="472.5" y2="272" stroke="#222" stroke-width="0.9"/>
<polygon points="453.4,262 457.8,262.6 456.1,265.6" fill="#222"/>
<text x="357.1" y="256.5" font-size="3.75" text-anchor="start" fill="#2a2a2a" stroke="#2a2a2a" stroke-width="0.08" textLength="63.1" lengthAdjust="spacingAndGlyphs">CR FLC-MS Neg vs. CR FLC-MS Pos</text>
<text x="429.1" y="256.5" font-size="3.75" fill="#2a2a2a"><tspan font-style="italic">P</tspan> = .024</text>
<text x="357.1" y="260.6" font-size="3.75" text-anchor="start" fill="#2a2a2a" stroke="#2a2a2a" stroke-width="0.08" textLength="68" lengthAdjust="spacingAndGlyphs">CR FLC-MS Neg vs. VGPR FLC-MS Neg</text>
<text x="429.1" y="260.6" font-size="3.75" fill="#2a2a2a"><tspan font-style="italic">P</tspan> = .008</text>
<text x="357.1" y="264.6" font-size="3.75" text-anchor="start" fill="#2a2a2a" stroke="#2a2a2a" stroke-width="0.08" textLength="67.5" lengthAdjust="spacingAndGlyphs">CR FLC-MS Neg vs. VGPR FLC-MS Pos</text>
<text x="429.1" y="264.6" font-size="3.75" fill="#2a2a2a"><tspan font-style="italic">P</tspan> &lt; .001</text>
<text x="357.1" y="268.7" font-size="3.75" text-anchor="start" fill="#2a2a2a" stroke="#2a2a2a" stroke-width="0.08" textLength="67.5" lengthAdjust="spacingAndGlyphs">CR FLC-MS Pos vs. VGPR FLC-MS Neg</text>
<text x="429.1" y="268.7" font-size="3.75" fill="#2a2a2a"><tspan font-style="italic">P</tspan> = .827</text>
<text x="357.1" y="272.7" font-size="3.75" text-anchor="start" fill="#2a2a2a" stroke="#2a2a2a" stroke-width="0.08" textLength="65.7" lengthAdjust="spacingAndGlyphs">CR FLC-MS Pos vs. VGPR FLC-MS Pos</text>
<text x="429.1" y="272.7" font-size="3.75" fill="#2a2a2a"><tspan font-style="italic">P</tspan> = .014</text>
<text x="357.1" y="276.7" font-size="3.75" text-anchor="start" fill="#2a2a2a" stroke="#2a2a2a" stroke-width="0.08" textLength="68.4" lengthAdjust="spacingAndGlyphs">VGPR FLC-MS Neg vs. VGPR FLC-MS Pos</text>
<text x="429.1" y="276.7" font-size="3.75" fill="#2a2a2a"><tspan font-style="italic">P</tspan> = .725</text>
<line x1="281.4" y1="308.5" x2="482" y2="308.5" stroke="#666" stroke-width="1"/>
<line x1="281.4" y1="318.4" x2="482" y2="318.4" stroke="#666" stroke-width="1"/>
<line x1="281.4" y1="356" x2="482" y2="356" stroke="#666" stroke-width="1.3"/>
<text x="283.6" y="315.5" font-size="5.6" text-anchor="start" fill="#333" stroke="#333" stroke-width="0.08">At risk</text>
<text x="355.3" y="315.5" font-size="5.6" text-anchor="middle" fill="#333" stroke="#333" stroke-width="0.08">0</text>
<text x="378.64" y="315.5" font-size="5.6" text-anchor="middle" fill="#333" stroke="#333" stroke-width="0.08">20</text>
<text x="401.98" y="315.5" font-size="5.6" text-anchor="middle" fill="#333" stroke="#333" stroke-width="0.08">40</text>
<text x="425.32" y="315.5" font-size="5.6" text-anchor="middle" fill="#333" stroke="#333" stroke-width="0.08">60</text>
<text x="448.66" y="315.5" font-size="5.6" text-anchor="middle" fill="#333" stroke="#333" stroke-width="0.08">80</text>
<text x="472" y="315.5" font-size="5.6" text-anchor="middle" fill="#333" stroke="#333" stroke-width="0.08">100</text>
<text x="283.6" y="326.1" font-size="5.6" text-anchor="start" fill="#333" stroke="#333" stroke-width="0.08" textLength="57.4" lengthAdjust="spacingAndGlyphs">CR + FLC-MS Negative</text>
<text x="355.3" y="326.1" font-size="5.6" text-anchor="middle" fill="#333" stroke="#333" stroke-width="0.08">64</text>
<text x="378.64" y="326.1" font-size="5.6" text-anchor="middle" fill="#333" stroke="#333" stroke-width="0.08">58</text>
<text x="401.98" y="326.1" font-size="5.6" text-anchor="middle" fill="#333" stroke="#333" stroke-width="0.08">35</text>
<text x="425.32" y="326.1" font-size="5.6" text-anchor="middle" fill="#333" stroke="#333" stroke-width="0.08">11</text>
<text x="448.66" y="326.1" font-size="5.6" text-anchor="middle" fill="#333" stroke="#333" stroke-width="0.08">10</text>
<text x="472" y="326.1" font-size="5.6" text-anchor="middle" fill="#333" stroke="#333" stroke-width="0.08">1</text>
<text x="283.6" y="335.2" font-size="5.6" text-anchor="start" fill="#333" stroke="#333" stroke-width="0.08" textLength="54.4" lengthAdjust="spacingAndGlyphs">CR + FLC-MS Positive</text>
<text x="355.3" y="335.2" font-size="5.6" text-anchor="middle" fill="#333" stroke="#333" stroke-width="0.08">100</text>
<text x="378.64" y="335.2" font-size="5.6" text-anchor="middle" fill="#333" stroke="#333" stroke-width="0.08">87</text>
<text x="401.98" y="335.2" font-size="5.6" text-anchor="middle" fill="#333" stroke="#333" stroke-width="0.08">47</text>
<text x="425.32" y="335.2" font-size="5.6" text-anchor="middle" fill="#333" stroke="#333" stroke-width="0.08">13</text>
<text x="448.66" y="335.2" font-size="5.6" text-anchor="middle" fill="#333" stroke="#333" stroke-width="0.08">10</text>
<text x="472" y="335.2" font-size="5.6" text-anchor="middle" fill="#333" stroke="#333" stroke-width="0.08">7</text>
<text x="283.6" y="344.2" font-size="5.6" text-anchor="start" fill="#333" stroke="#333" stroke-width="0.08" textLength="64.8" lengthAdjust="spacingAndGlyphs">VGPR + FLC-MS Negative</text>
<text x="355.3" y="344.2" font-size="5.6" text-anchor="middle" fill="#333" stroke="#333" stroke-width="0.08">26</text>
<text x="378.64" y="344.2" font-size="5.6" text-anchor="middle" fill="#333" stroke="#333" stroke-width="0.08">22</text>
<text x="401.98" y="344.2" font-size="5.6" text-anchor="middle" fill="#333" stroke="#333" stroke-width="0.08">12</text>
<text x="425.32" y="344.2" font-size="5.6" text-anchor="middle" fill="#333" stroke="#333" stroke-width="0.08">2</text>
<text x="448.66" y="344.2" font-size="5.6" text-anchor="middle" fill="#333" stroke="#333" stroke-width="0.08">1</text>
<text x="283.6" y="353.6" font-size="5.6" text-anchor="start" fill="#333" stroke="#333" stroke-width="0.08" textLength="61.4" lengthAdjust="spacingAndGlyphs">VGPR + FLC-MS Positive</text>
<text x="355.3" y="353.6" font-size="5.6" text-anchor="middle" fill="#333" stroke="#333" stroke-width="0.08">143</text>
<text x="378.64" y="353.6" font-size="5.6" text-anchor="middle" fill="#333" stroke="#333" stroke-width="0.08">133</text>
<text x="401.98" y="353.6" font-size="5.6" text-anchor="middle" fill="#333" stroke="#333" stroke-width="0.08">55</text>
<text x="425.32" y="353.6" font-size="5.6" text-anchor="middle" fill="#333" stroke="#333" stroke-width="0.08">18</text>
<text x="448.66" y="353.6" font-size="5.6" text-anchor="middle" fill="#333" stroke="#333" stroke-width="0.08">10</text>
<text x="472" y="353.6" font-size="5.6" text-anchor="middle" fill="#333" stroke="#333" stroke-width="0.08">2</text>
<rect x="0.5" y="0.5" width="519" height="362" fill="none" stroke="#585858" stroke-width="1.1"/>
</svg></body></html>
